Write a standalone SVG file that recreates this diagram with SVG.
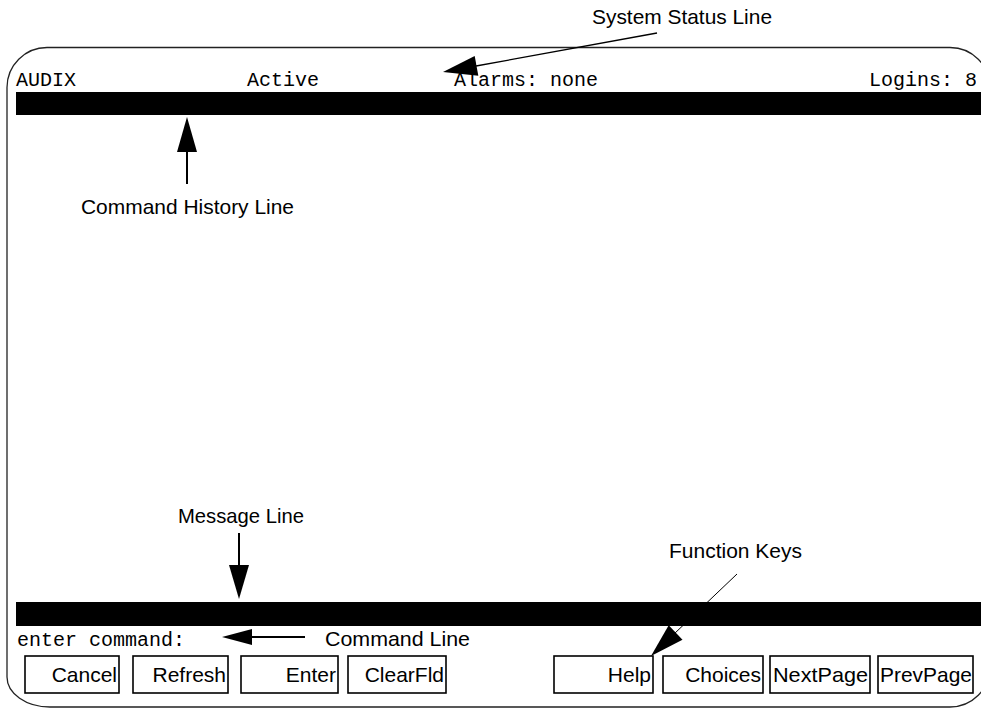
<svg xmlns="http://www.w3.org/2000/svg" width="981" height="709" viewBox="0 0 981 709">
<style>
.mono{font-family:"Liberation Mono","DejaVu Sans Mono",monospace;font-size:20px;fill:#000}
.lbl{font-family:"Liberation Sans",Arial,sans-serif;font-size:21px;fill:#000}
.key{font-family:"Liberation Sans",Arial,sans-serif;font-size:21px;fill:#000;text-anchor:end}
.btn{fill:#fff;stroke:#000;stroke-width:1.6}
.bar{fill:#000}
.ln{stroke:#000;fill:none}
.ah{fill:#000;stroke:none}
</style>
<defs>
<clipPath id="scr"><rect x="0" y="0" width="976" height="709"/></clipPath>
</defs>
<rect width="981" height="709" fill="#fff"/>
<g id="screen-border">
<path d="M47,47.5 H950 A40,40 0 0 1 990,87.5 V667 A40,40 0 0 1 950,707 H50 A43,30 0 0 1 7,677 V87.5 A40,40 0 0 1 47,47.5 Z" fill="none" stroke="#222" stroke-width="1.3"/>
</g>
<g id="status-line" clip-path="url(#scr)">
<text class="mono" x="16" y="86">AUDIX</text>
<text class="mono" x="247" y="86">Active</text>
<text class="mono" x="454" y="86">Alarms: none</text>
<text class="mono" x="869" y="86">Logins: 8</text>
</g>
<g id="history-bar"><rect class="bar" x="16" y="92" width="965" height="23"/></g>
<g id="message-bar"><rect class="bar" x="16" y="602" width="965" height="24"/></g>
<g id="command-line"><text class="mono" x="17" y="646">enter command:</text></g>
<g id="key-cancel"><rect class="btn" x="25" y="656" width="94" height="37"/><text class="key" x="117" y="682">Cancel</text></g>
<g id="key-refresh"><rect class="btn" x="133" y="656" width="95" height="37"/><text class="key" x="226" y="682">Refresh</text></g>
<g id="key-enter"><rect class="btn" x="241" y="656" width="97" height="37"/><text class="key" x="336" y="682">Enter</text></g>
<g id="key-clearfld"><rect class="btn" x="348" y="656" width="98" height="37"/><text class="key" x="444" y="682">ClearFld</text></g>
<g id="key-help"><rect class="btn" x="554" y="656" width="99" height="37"/><text class="key" x="651" y="682">Help</text></g>
<g id="key-choices"><rect class="btn" x="663" y="656" width="100" height="37"/><text class="key" x="761" y="682">Choices</text></g>
<g id="key-nextpage"><rect class="btn" x="770" y="656" width="100" height="37"/><text class="key" x="868" y="682" textLength="95" lengthAdjust="spacingAndGlyphs">NextPage</text></g>
<g id="key-prevpage"><rect class="btn" x="878" y="656" width="95" height="37"/><text class="key" x="972" y="682" textLength="92" lengthAdjust="spacingAndGlyphs">PrevPage</text></g>
<g id="label-system-status"><text class="lbl" x="592" y="24" textLength="180" lengthAdjust="spacingAndGlyphs">System Status Line</text></g>
<g id="label-command-history"><text class="lbl" x="81" y="214" textLength="213" lengthAdjust="spacingAndGlyphs">Command History Line</text></g>
<g id="label-message"><text class="lbl" x="178" y="523" textLength="126" lengthAdjust="spacingAndGlyphs">Message Line</text></g>
<g id="label-function-keys"><text class="lbl" x="669" y="558" textLength="133" lengthAdjust="spacingAndGlyphs">Function Keys</text></g>
<g id="label-command-line"><text class="lbl" x="325" y="646" textLength="145" lengthAdjust="spacingAndGlyphs">Command Line</text></g>
<g id="connectors">
<line class="ln" x1="657" y1="33" x2="476" y2="66" stroke-width="1.3"/>
<polygon class="ah" points="443,72 474.7,56.1 478.3,75.7"/>
<line class="ln" x1="187" y1="184" x2="187" y2="150" stroke-width="2"/>
<polygon class="ah" points="187,117 177,152 197,152"/>
<line class="ln" x1="239" y1="533" x2="239" y2="567" stroke-width="2"/>
<polygon class="ah" points="239,599 229,565 249,565"/>
<line class="ln" x1="305" y1="637" x2="250" y2="637" stroke-width="2"/>
<polygon class="ah" points="222,637 252,629 252,645"/>
<line class="ln" x1="737" y1="574" x2="674" y2="634" stroke-width="1"/>
<polygon class="ah" points="651,656 682.5,639.7 668.7,625.3"/>
</g>
</svg>
